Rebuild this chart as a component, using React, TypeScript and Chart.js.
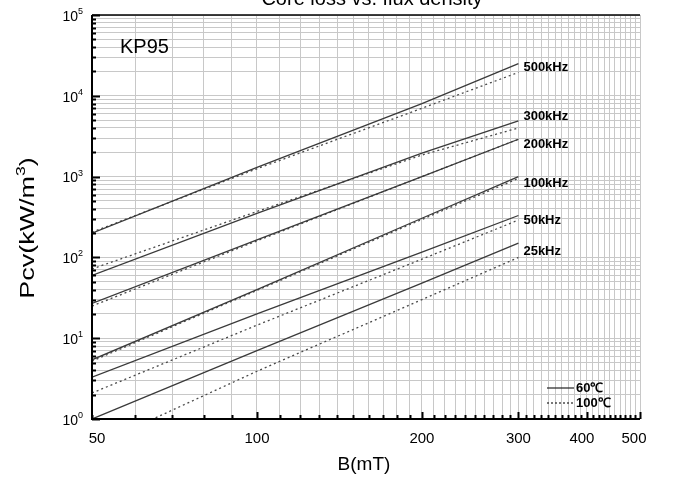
import React, { useEffect, useRef } from 'react';
import { Chart, registerables } from 'chart.js';

Chart.register(...registerables);

// ---- data ----
const B_POINTS = [50, 100, 200, 300]; // mT

const FREQ_LABELS = ['500kHz', '300kHz', '200kHz', '100kHz', '50kHz', '25kHz'];

// 60 °C (solid)
const PCV_60C_500K = [200, 1300, 8000, 25000];
const PCV_60C_300K = [60, 350, 1950, 4900];
const PCV_60C_200K = [27, 165, 1000, 2900];
const PCV_60C_100K = [5.4, 40, 305, 1000];
const PCV_60C_50K = [3.3, 20, 116, 330];
const PCV_60C_25K = [1.0, 7.0, 48, 150];

// 100 °C (dotted)
const PCV_100C_500K = [205, 1250, 7000, 19500];
const PCV_100C_300K = [72, 370, 1850, 4000];
const PCV_100C_200K = [25, 160, 1000, 2900];
const PCV_100C_100K = [5.2, 39, 295, 950];
const PCV_100C_50K = [2.1, 14.5, 95, 290];
const PCV_100C_25K = [0.45, 3.9, 30, 100];

// label anchor (Pcv value where each frequency label sits, at B = 300)
const LABEL_ANCHOR_B = 300;
const LABEL_ANCHOR_PCV = [22700, 5620, 2530, 834, 290, 117];

const X_MIN = 50;
const X_MAX = 500;
const X_MINOR_STEP = 10;
const X_TICK_LABELS = [50, 100, 200, 300, 400, 500];
const Y_EXPONENTS = [0, 1, 2, 3, 4, 5];

const TITLE = 'Core loss vs. flux density';
const MATERIAL = 'KP95';
const X_TITLE = 'B(mT)';
const Y_TITLE_MAIN = 'Pcv(kW/m';
const Y_TITLE_SUP = '3';
const Y_TITLE_END = ')';
const LEGEND_LABELS = ['60\u2103', '100\u2103'];

const FONT = '"Liberation Sans", Arial, sans-serif';

const SERIES_60 = [PCV_60C_500K, PCV_60C_300K, PCV_60C_200K, PCV_60C_100K, PCV_60C_50K, PCV_60C_25K];
const SERIES_100 = [PCV_100C_500K, PCV_100C_300K, PCV_100C_200K, PCV_100C_100K, PCV_100C_50K, PCV_100C_25K];

const X_TICK_VALUES: number[] = [];
for (let v = X_MIN; v <= X_MAX; v += X_MINOR_STEP) X_TICK_VALUES.push(v);

const Y_TICK_VALUES: number[] = [];
for (let e = 0; e < 5; e++) for (let k = 1; k <= 9; k++) Y_TICK_VALUES.push(k * Math.pow(10, e));
Y_TICK_VALUES.push(1e5);

const decorPlugin = {
  id: 'decor',
  afterDraw(chart: any) {
    const { ctx, chartArea: a } = chart;
    const x = chart.scales.x;
    const y = chart.scales.y;
    ctx.save();

    // frame
    ctx.strokeStyle = '#000';
    ctx.lineWidth = 1.5;
    ctx.beginPath();
    ctx.moveTo(a.left, a.top);
    ctx.lineTo(a.right, a.top);
    ctx.stroke();
    ctx.lineWidth = 2;
    ctx.beginPath();
    ctx.moveTo(a.left, a.top);
    ctx.lineTo(a.left, a.bottom);
    ctx.lineTo(a.right, a.bottom);
    ctx.stroke();

    // y ticks (inward)
    ctx.lineWidth = 2;
    for (const v of Y_TICK_VALUES) {
      const py = Math.round(y.getPixelForValue(v)) + 0.5;
      const major = Math.abs(Math.log10(v) - Math.round(Math.log10(v))) < 1e-9;
      const len = major ? 8 : 4;
      ctx.beginPath();
      ctx.moveTo(a.left, py);
      ctx.lineTo(a.left + len, py);
      ctx.stroke();
    }
    // x ticks (inward)
    for (const v of X_TICK_VALUES) {
      const px = Math.round(x.getPixelForValue(v)) + 0.5;
      const major = v % 100 === 0;
      const len = major ? 7 : 4;
      ctx.beginPath();
      ctx.moveTo(px, a.bottom);
      ctx.lineTo(px, a.bottom - len);
      ctx.stroke();
    }

    ctx.fillStyle = '#000';
    // y tick labels 10^n
    for (const e of Y_EXPONENTS) {
      const py = y.getPixelForValue(Math.pow(10, e));
      ctx.font = `14px ${FONT}`;
      ctx.textAlign = 'right';
      ctx.textBaseline = 'middle';
      ctx.fillText('10', a.left - 14, py + 2);
      ctx.font = `9px ${FONT}`;
      ctx.textAlign = 'left';
      ctx.textBaseline = 'alphabetic';
      ctx.fillText(String(e), a.left - 14, py - 1);
    }

    // x tick labels
    ctx.font = `15px ${FONT}`;
    ctx.textAlign = 'center';
    ctx.textBaseline = 'alphabetic';
    for (const v of X_TICK_LABELS) {
      let px = x.getPixelForValue(v);
      if (v === X_MIN) px += 5;
      if (v === X_MAX) px -= 6;
      if (v === 400) px -= 5;
      ctx.fillText(String(v), px, a.bottom + 24);
    }

    // axis titles
    ctx.font = `19px ${FONT}`;
    ctx.textAlign = 'center';
    ctx.fillText(X_TITLE, (a.left + a.right) / 2 - 2, a.bottom + 51);

    ctx.save();
    ctx.translate(34, 228);
    ctx.rotate(-Math.PI / 2);
    ctx.scale(1.35, 1);
    const big = `20px ${FONT}`;
    const small = `13px ${FONT}`;
    ctx.font = big;
    const wMain = ctx.measureText(Y_TITLE_MAIN).width;
    ctx.font = small;
    const wSup = ctx.measureText(Y_TITLE_SUP).width;
    ctx.font = big;
    const wEnd = ctx.measureText(Y_TITLE_END).width;
    const total = wMain + wSup + wEnd;
    let cx = -total / 2;
    ctx.textAlign = 'left';
    ctx.fillText(Y_TITLE_MAIN, cx, 0);
    cx += wMain;
    ctx.font = small;
    ctx.fillText(Y_TITLE_SUP, cx, -9);
    cx += wSup;
    ctx.font = big;
    ctx.fillText(Y_TITLE_END, cx, 0);
    ctx.restore();

    // chart title (mostly cut off at top)
    ctx.font = `20px ${FONT}`;
    ctx.textAlign = 'center';
    ctx.fillText(TITLE, 372, 5);

    // material label
    ctx.font = `20px ${FONT}`;
    ctx.textAlign = 'left';
    ctx.fillText(MATERIAL, a.left + 28, a.top + 38);

    // frequency labels
    ctx.font = `bold 13px ${FONT}`;
    ctx.textBaseline = 'middle';
    FREQ_LABELS.forEach((lab, i) => {
      const px = x.getPixelForValue(LABEL_ANCHOR_B) + 5;
      const py = y.getPixelForValue(LABEL_ANCHOR_PCV[i]);
      ctx.fillText(lab, px, py);
    });

    // legend
    const lx0 = a.right - 93;
    const lx1 = a.right - 66;
    const ly0 = a.bottom - 31;
    const ly1 = a.bottom - 16;
    ctx.strokeStyle = '#222';
    ctx.lineWidth = 1.2;
    ctx.beginPath();
    ctx.moveTo(lx0, ly0);
    ctx.lineTo(lx1, ly0);
    ctx.stroke();
    ctx.setLineDash([2, 2]);
    ctx.beginPath();
    ctx.moveTo(lx0, ly1);
    ctx.lineTo(lx1, ly1);
    ctx.stroke();
    ctx.setLineDash([]);
    ctx.font = `bold 13px ${FONT}`;
    ctx.textBaseline = 'middle';
    ctx.fillText(LEGEND_LABELS[0], lx1 + 2, ly0);
    ctx.fillText(LEGEND_LABELS[1], lx1 + 2, ly1);

    ctx.restore();
  },
};

export default function App() {
  const ref = useRef<HTMLCanvasElement | null>(null);

  useEffect(() => {
    if (!ref.current) return;
    const datasets: any[] = [];
    SERIES_60.forEach((vals, i) => {
      datasets.push({
        label: FREQ_LABELS[i] + ' 60',
        data: B_POINTS.map((b, j) => ({ x: b, y: vals[j] })),
        borderColor: '#3a3a3a',
        borderWidth: 1.3,
        pointRadius: 0,
        fill: false,
        tension: 0,
      });
    });
    SERIES_100.forEach((vals, i) => {
      datasets.push({
        label: FREQ_LABELS[i] + ' 100',
        data: B_POINTS.map((b, j) => ({ x: b, y: vals[j] })),
        borderColor: '#4a4a4a',
        borderWidth: 1.3,
        borderDash: [2, 3],
        pointRadius: 0,
        fill: false,
        tension: 0,
      });
    });

    const chart = new Chart(ref.current, {
      type: 'line',
      data: { datasets },
      options: {
        animation: false,
        responsive: false,
        devicePixelRatio: 1,
        layout: { padding: { left: 92, right: 34, top: 15, bottom: 62 } },
        plugins: { legend: { display: false }, tooltip: { enabled: false }, title: { display: false } },
        scales: {
          x: {
            type: 'logarithmic',
            min: X_MIN,
            max: X_MAX,
            afterBuildTicks: (axis: any) => {
              axis.ticks = X_TICK_VALUES.map((v) => ({ value: v }));
            },
            ticks: { display: false },
            grid: { color: '#c8c8c8', lineWidth: 1, drawTicks: false },
            border: { display: false },
          },
          y: {
            type: 'logarithmic',
            min: 1,
            max: 1e5,
            afterBuildTicks: (axis: any) => {
              axis.ticks = Y_TICK_VALUES.map((v) => ({ value: v }));
            },
            ticks: { display: false },
            grid: { color: '#c8c8c8', lineWidth: 1, drawTicks: false },
            border: { display: false },
          },
        },
      },
      plugins: [decorPlugin],
    });
    return () => chart.destroy();
  }, []);

  return (
    <div style={{ position: 'fixed', left: 0, top: 0, width: 674, height: 481, background: '#fff' }}>
      <canvas ref={ref} width={674} height={481} style={{ width: 674, height: 481 }} />
    </div>
  );
}
